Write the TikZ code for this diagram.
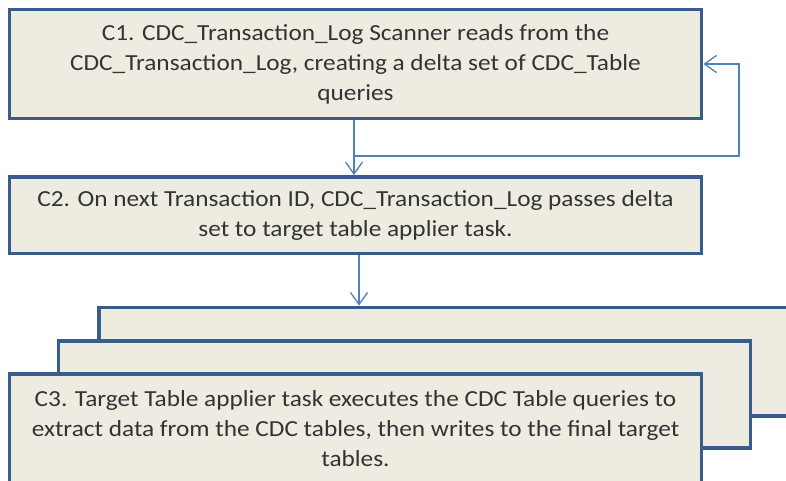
\documentclass[tikz,border=0pt]{standalone}
\usepackage{fontspec}
\setmainfont{Carlito}[FakeStretch=1.1]
\usetikzlibrary{arrows.meta,calc}
\definecolor{boxfill}{HTML}{EEECE1}
\definecolor{boxline}{HTML}{385D8A}
\definecolor{connline}{HTML}{4F81BD}
\definecolor{txt}{HTML}{333333}
\tikzset{
  procbox/.style={draw=boxline, fill=boxfill, line width=3.8pt, minimum width=692pt,
    inner sep=0pt, align=center, text=txt, font=\fontsize{23}{30}\selectfont},
  conn/.style={draw=connline, line width=1.3pt, -{Straight Barb[length=12pt,width=17pt,line width=1.3pt]}}
}
\begin{document}
\begin{tikzpicture}[x=1pt,y=-1pt]
\useasboundingbox (0,0) rectangle (786,480);
\clip (0,0) rectangle (786,480);
\node[procbox, minimum height=109pt] (c1) at (355.5,64) {C1. CDC\_Transaction\_Log Scanner reads from the\\CDC\_Transaction\_Log, creating a delta set of CDC\_Table\\queries};
\node[procbox, minimum height=76.5pt] (c2) at (355.5,215.25) {C2. On next Transaction ID, CDC\_Transaction\_Log passes delta\\set to target table applier task.};
\node[procbox, minimum height=108.5pt] (back) at (445,361.75) {};
\node[procbox, minimum height=107pt] (mid) at (404.5,394.5) {};
\node[procbox, minimum height=108.5pt] (c3) at (355.5,428.25) {C3. Target Table applier task executes the CDC Table queries to\\extract data from the CDC tables, then writes to the final target\\tables.};
\coordinate (j) at (354,156);
\coordinate (r1) at (739,156);
\coordinate (r2) at (739,64);
\draw[conn] (c1.south -| j) -- (c2.north -| j);
\draw[conn] (j) -- (r1) -- (r2) -- (c1.east |- r2);
\coordinate (d) at (359,0);
\draw[conn] (c2.south -| d) -- (back.north -| d);
\end{tikzpicture}
\end{document}
